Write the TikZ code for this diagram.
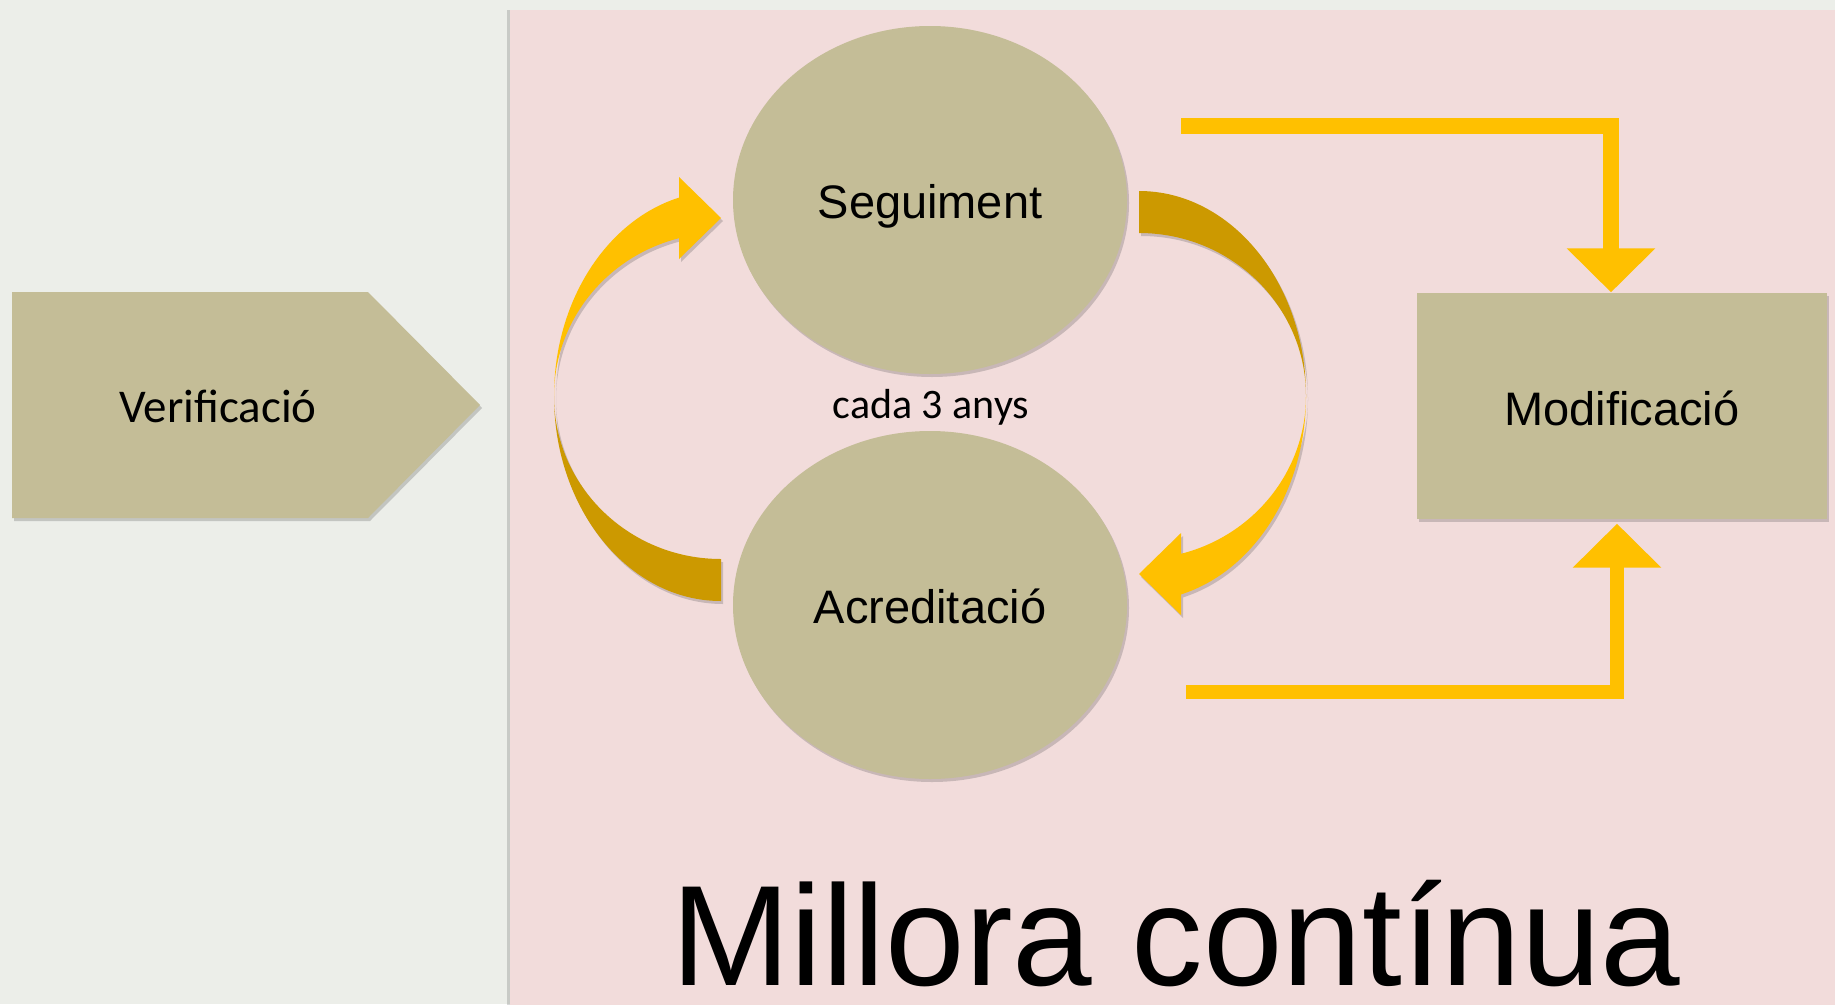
\documentclass[tikz,border=0pt]{standalone}
\usepackage{fontspec}
\setmainfont{Liberation Sans}
\newfontfamily\calib{Carlito}
\usetikzlibrary{shapes.geometric,arrows.meta,shadows}
\definecolor{bggray}{HTML}{ECEEE9}
\definecolor{panelpink}{HTML}{F2DCDB}
\definecolor{khaki}{HTML}{C4BD97}
\definecolor{yel}{HTML}{FFC000}
\definecolor{darkyel}{HTML}{CC9900}
\tikzset{
  softshadow/.style={drop shadow={shadow xshift=2pt,shadow yshift=-3pt,opacity=.25,fill=black!70}},
  oval/.style={ellipse,fill=khaki,minimum width=394pt,minimum height=348pt,inner sep=0pt,
    text height=36pt,text depth=0pt,font=\fontsize{47}{56}\selectfont,softshadow},
  boxnode/.style={rectangle,fill=khaki,minimum width=410pt,minimum height=226pt,inner sep=0pt,
    text height=39pt,text depth=0pt,font=\fontsize{47}{56}\selectfont,softshadow},
  elbow/.style={draw=yel,line width=#1,line join=miter,-{Triangle[width=86pt,length=44pt]}},
  lighthalf/.style={fill=yel,softshadow},
  darkhalf/.style={fill=darkyel,softshadow}
}
\begin{document}
\begin{tikzpicture}[x=1pt,y=-1pt]
\useasboundingbox (0,0) rectangle (1835,1004);
% backgrounds
\fill[bggray] (0,0) rectangle (1835,1004);
\fill[panelpink,drop shadow={shadow xshift=-3pt,shadow yshift=0pt,opacity=.15,fill=black}] (510,10) rectangle (1840,1010);
% Verificacio pentagon
\fill[khaki,softshadow] (12,292) -- (368,292) -- (480,405) -- (368,518) -- (12,518) -- cycle;
\node[font=\calib\fontsize{47}{56}\selectfont,anchor=base] (verif) at (218,422) {Verificació};
% ovals
\node[oval] (seg) at (930,200) {Seguiment};
\node[oval] (acr) at (930,605) {Acreditació};
\node[font=\calib\fontsize{42}{50}\selectfont,anchor=base] (cada) at (931,418) {cada 3 anys};
% Modificacio box
\node[boxnode] (modif) at (1622,405.5) {Modificació};
% left curved arrow (Acreditacio -> Seguiment)
\fill[darkhalf] (721,601) arc[start angle=90,end angle=180,x radius=167,y radius=205]
  arc[start angle=180,end angle=90,x radius=167,y radius=163] -- cycle;
\fill[lighthalf] (554,396) arc[start angle=180,end angle=255.43,x radius=167,y radius=205]
  -- (679,177) -- (721,218) -- (679,259) -- (679,238.2)
  arc[start angle=255.43,end angle=180,x radius=167,y radius=163] -- cycle;
% right curved arrow (Seguiment -> Acreditacio)
\fill[darkhalf] (1139,191) arc[start angle=270,end angle=360,x radius=167,y radius=205]
  arc[start angle=0,end angle=-90,x radius=167,y radius=163] -- cycle;
\fill[lighthalf] (1306,396) arc[start angle=0,end angle=75.43,x radius=167,y radius=205]
  -- (1181,615) -- (1139,574) -- (1181,533) -- (1181,553.8)
  arc[start angle=75.43,end angle=0,x radius=167,y radius=163] -- cycle;
% elbow connectors to Modificacio
\coordinate (topstart) at (1181,126);
\coordinate (botstart) at (1186,691.5);
\draw[elbow=16pt] (topstart) -| ([xshift=-11pt]modif.north);
\draw[elbow=14pt] (botstart) -| ([xshift=-5pt,yshift=-5pt]modif.south);
% title
\node[font=\fontsize{143}{160}\selectfont,anchor=base,inner sep=0pt] (title) at (1176,985) {Millora contínua};
\end{tikzpicture}
\end{document}
